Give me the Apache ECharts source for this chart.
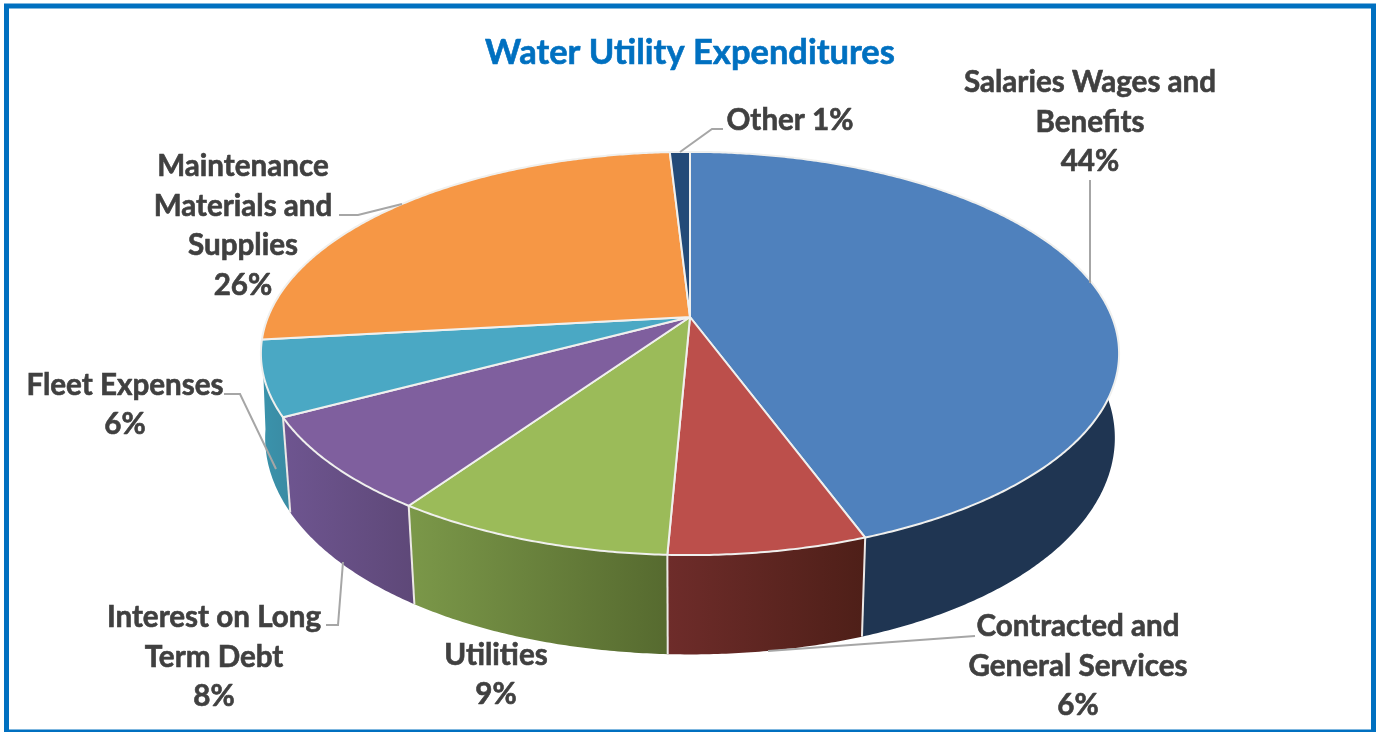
<!DOCTYPE html>
<html>
<head>
<meta charset="utf-8">
<title>Water Utility Expenditures</title>
<script src="https://cdn.jsdelivr.net/npm/echarts@6/dist/echarts.min.js"></script>
<style>
    html, body { margin: 0; padding: 0; background: #fff; }
    #chart { width: 1378px; height: 732px; }
</style>
</head>
<body>
<div id="chart"></div>
<script>
const chartTitle = "Water Utility Expenditures";
const categories = [
    "Salaries Wages and\nBenefits",
    "Contracted and\nGeneral Services",
    "Utilities",
    "Interest on Long\nTerm Debt",
    "Fleet Expenses",
    "Maintenance\nMaterials and\nSupplies",
    "Other"
];
const shares = [44.4, 6.3, 8.9, 7.6, 6.0, 25.9, 0.9];

const topColors = ["#4f81bd", "#bc4f4b", "#9bbb59", "#7f5f9e", "#4aa8c4", "#f69745", "#234a78"];
const wallColors = [
    ["#1f3552", "#1f3552"],
    ["#6e2c2a", "#4e1f18"],
    ["#7b9849", "#566a2f"],
    ["#6e5590", "#5e4878"],
    ["#3a93ac", "#3a8ba3"],
    null,
    null
];

// label placement, text centre and leader line, in page pixels
const labelLayout = [
    { x: 1090, y: 122, leader: [[1090, 180], [1090, 283]] },
    { x: 1078, y: 666, leader: [[975, 636], [768, 651]] },
    { x: 496, y: 675, leader: null },
    { x: 214, y: 657, leader: [[326, 625], [338, 625], [343, 562]] },
    { x: 125, y: 405, leader: [[224, 394], [240, 394], [276, 469]] },
    { x: 243, y: 226, leader: [[339, 215], [358, 215], [402, 204]] },
    { x: 790, y: 120, leader: [[723, 129], [712, 129], [680, 152]], oneLine: true }
];

// the pie is a tilted disc, top and bottom faces have their own projection
const topFace = { cx: 690, cy: 317, rx: 422, ry: 195, persp: 0.181, frontWiden: 0 };
const bottomFace = { cx: 690, cy: 405, rx: 420, ry: 212, persp: 0.15, frontWiden: 0.025 };

const project = (face, angle) => {
    const u = Math.sin(angle);
    const v = -Math.cos(angle);
    const w = 1 - face.persp * v;
    const widen = 1 + face.frontWiden * Math.pow(Math.max(v, 0), 3);
    return [face.cx + (face.rx * widen * u) / w, face.cy + (face.ry * v) / w];
};

const arcPoints = (face, from, to) => {
    const steps = Math.max(2, Math.ceil((to - from) * 120));
    const points = [];
    for (let i = 0; i <= steps; i++) {
        points.push(project(face, from + ((to - from) * i) / steps));
    }
    return points;
};

const total = shares.reduce((a, b) => a + b, 0);
const sliceAngles = [];
let running = 0;
shares.forEach(share => {
    const start = (running / total) * Math.PI * 2;
    running += share;
    sliceAngles.push([start, (running / total) * Math.PI * 2]);
});

const renderWall = (params, api) => {
    const i = params.dataIndex;
    // slices at the back of the disc show no wall
    if (!wallColors[i]) {
        return { type: "group", children: [] };
    }
    const [from, to] = sliceAngles[i];
    const upper = arcPoints(topFace, from, to);
    const lower = arcPoints(bottomFace, from, to);
    const xs = upper.concat(lower).map(p => p[0]);
    const children = [
        {
            type: "polygon",
            shape: { points: upper.concat(lower.slice().reverse()) },
            style: {
                fill: {
                    type: "linear",
                    global: true,
                    x: Math.min(...xs),
                    y: 0,
                    x2: Math.max(...xs),
                    y2: 0,
                    colorStops: [
                        { offset: 0, color: wallColors[i][0] },
                        { offset: 1, color: wallColors[i][1] }
                    ]
                }
            }
        }
    ];
    // light seam between neighbours on the front of the disc
    if (from > 0) {
        children.push({
            type: "line",
            shape: {
                x1: project(topFace, from)[0],
                y1: project(topFace, from)[1],
                x2: project(bottomFace, from)[0],
                y2: project(bottomFace, from)[1]
            },
            style: { stroke: "#ece8e6", lineWidth: 2 }
        });
    }
    return { type: "group", children };
};

const renderTop = (params, api) => {
    const i = params.dataIndex;
    const [from, to] = sliceAngles[i];
    const points = [[topFace.cx, topFace.cy]].concat(arcPoints(topFace, from, to));
    return {
        type: "polygon",
        shape: { points },
        style: { fill: topColors[i], stroke: "#f0f0ee", lineWidth: 2, lineJoin: "round" }
    };
};

const renderLabel = (params, api) => {
    const i = params.dataIndex;
    const layout = labelLayout[i];
    const percent = Math.round(api.value(0)) + "%";
    const children = [
        {
            type: "text",
            style: {
                x: layout.x,
                y: layout.y,
                text: categories[i] + (layout.oneLine ? " " : "\n") + percent,
                align: "center",
                verticalAlign: "middle",
                fill: "#404040",
                stroke: "#404040",
                lineWidth: 0.6,
                font: "bold 29.6px Lato",
                lineHeight: 39.5
            }
        }
    ];
    if (layout.leader) {
        children.push({
            type: "polyline",
            shape: { points: layout.leader },
            style: { fill: "none", stroke: "#a6a6a6", lineWidth: 2 }
        });
    }
    return { type: "group", children };
};

const chart = echarts.init(document.getElementById("chart"));
chart.setOption({
    animation: false,
    backgroundColor: "#fff",
    title: {
        text: chartTitle,
        left: 685,
        top: 30,
        textAlign: "center",
        textStyle: {
            color: "#0070c0",
            fontFamily: "Lato",
            fontWeight: "bold",
            fontSize: 34.5,
            textBorderColor: "#0070c0",
            textBorderWidth: 0.6
        }
    },
    graphic: [
        {
            type: "rect",
            shape: { x: 6.5, y: 6, width: 1367, height: 726 },
            style: { fill: "none", stroke: "#0070c0", lineWidth: 5 },
            silent: true
        }
    ],
    series: [
        { type: "custom", coordinateSystem: "none", z: 1, silent: true, data: shares, renderItem: renderWall },
        { type: "custom", coordinateSystem: "none", z: 2, silent: true, data: shares, renderItem: renderTop },
        { type: "custom", coordinateSystem: "none", z: 3, silent: true, data: shares, renderItem: renderLabel }
    ]
});
</script>
</body>
</html>
